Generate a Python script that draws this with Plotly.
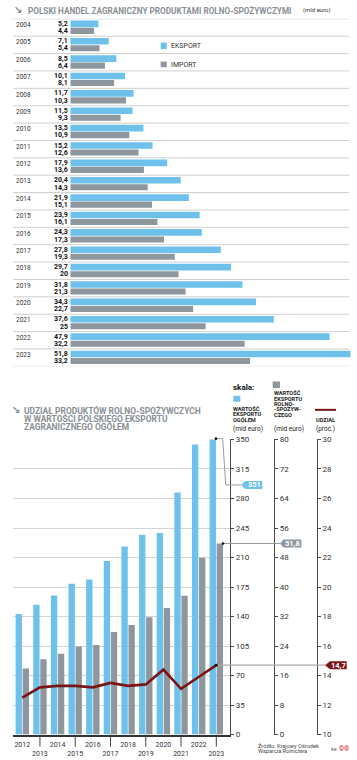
import plotly.graph_objects as go

W, H = 357, 760
FONT = "Roboto"

# ---------------- data ----------------
years_top = list(range(2004, 2024))
export_top = [5.2, 7.1, 8.5, 10.1, 11.7, 11.5, 13.5, 15.2, 17.9, 20.4,
              21.9, 23.9, 24.3, 27.8, 29.7, 31.8, 34.3, 37.6, 47.9, 51.8]
import_top = [4.4, 5.4, 6.4, 8.1, 10.3, 9.3, 10.9, 12.6, 13.6, 14.3,
              15.1, 16.1, 17.3, 19.3, 20, 21.3, 22.7, 25, 32.2, 33.2]

years_b = list(range(2012, 2024))
export_total = [143, 154, 165, 179, 184, 206, 223, 237, 239, 287, 344, 351]
export_agri = [17.9, 20.4, 21.9, 23.9, 24.3, 27.8, 29.7, 31.8, 34.3, 37.6, 47.9, 51.8]
share = [12.5, 13.2, 13.3, 13.3, 13.2, 13.5, 13.3, 13.4, 14.4, 13.1, 13.9, 14.7]

ticks_total = list(range(0, 351, 35))
ticks_agri = list(range(0, 81, 8))
ticks_share = list(range(10, 31, 2))

BLUE = "#6ec1ea"
GRAY = "#8e979e"
RED = "#7b1416"
TITLE_GRAY = "#8a8f94"
TXT = "#333333"


def fmt(v):
    return f"{v:g}".replace(".", ",")


def px(x):
    return x / W


def py(y):
    return 1 - y / H


# ---------------- geometry ----------------
TOP_X = (70.3, 350.7)
TOP_Y = (15.0, 366.7)
TOP_RANGE = [0, 51.8]

B_X = (13.0, 230.0)
B_Y = (440.7, 739.3)
step = (216.3 - 22.3) / 11
XR = [2012 - (22.3 - B_X[0]) / step, 2023 + (B_X[1] - 216.3) / step]
R_TOT = [0, 350]
R_AGRI = [0, 80]
R_SHARE = [10, 30]
AX2_X = 274.0
AX3_X = 316.7


def bx_px(v):
    return B_X[0] + (v - XR[0]) / (XR[1] - XR[0]) * (B_X[1] - B_X[0])


def by_px(v, rng):
    return B_Y[1] - (v - rng[0]) / (rng[1] - rng[0]) * (B_Y[1] - B_Y[0])


fig = go.Figure()

# ---------------- top chart ----------------
fig.add_trace(go.Bar(y=years_top, x=export_top, orientation="h", marker_color=BLUE,
                     marker_line_width=0, width=0.38, offset=-0.40,
                     xaxis="x", yaxis="y", showlegend=False, hoverinfo="skip"))
fig.add_trace(go.Bar(y=years_top, x=import_top, orientation="h", marker_color=GRAY,
                     marker_line_width=0, width=0.35, offset=0.02,
                     xaxis="x", yaxis="y", showlegend=False, hoverinfo="skip"))

# ---------------- bottom chart ----------------
fig.add_trace(go.Bar(x=years_b, y=export_total, marker_color=BLUE, marker_line_width=0,
                     width=0.36, offset=-0.38, xaxis="x2", yaxis="y2",
                     showlegend=False, hoverinfo="skip"))
fig.add_trace(go.Bar(x=years_b, y=export_agri, marker_color=GRAY, marker_line_width=0,
                     width=0.36, offset=0.02, xaxis="x2", yaxis="y3",
                     showlegend=False, hoverinfo="skip"))
fig.add_trace(go.Scatter(x=years_b, y=share, mode="lines", line=dict(color=RED, width=2.6),
                         xaxis="x2", yaxis="y4", showlegend=False, hoverinfo="skip"))

annotations = []
shapes = []


def txt(x, y, text, size, color=TXT, bold=False, anchor="left", family=FONT, **kw):
    t = f"<b>{text}</b>" if bold else text
    annotations.append(dict(x=px(x), y=py(y), xref="paper", yref="paper", text=t,
                            showarrow=False, xanchor=anchor, yanchor="middle",
                            font=dict(size=size, color=color, family=family),
                            borderpad=0, **kw))


# separators top chart
for b in [years_top[0] - 0.5] + [yv + 0.5 for yv in years_top]:
    shapes.append(dict(type="line", xref="paper", yref="y", x0=px(13), x1=px(349),
                       y0=b, y1=b, line=dict(color="#cfcfcf", width=1), layer="below"))

for yv, e, i in zip(years_top, export_top, import_top):
    annotations.append(dict(x=px(14), y=yv, xref="paper", yref="y", text=str(yv),
                            showarrow=False, xanchor="left", yanchor="middle", yshift=2.5,
                            font=dict(size=6.5, color=TXT, family=FONT)))
    annotations.append(dict(x=0, y=yv, xref="x", yref="y", text=f"<b>{fmt(e)}</b>",
                            showarrow=False, xanchor="right", yanchor="middle",
                            xshift=-1.5, yshift=3.6, borderpad=0,
                            font=dict(size=7, color="#111", family=FONT)))
    annotations.append(dict(x=0, y=yv, xref="x", yref="y", text=f"<b>{fmt(i)}</b>",
                            showarrow=False, xanchor="right", yanchor="middle",
                            xshift=-1.5, yshift=-3.6, borderpad=0,
                            font=dict(size=7, color="#111", family=FONT)))

# top title
txt(13, 6.0, "↘", 9.5, TITLE_GRAY, bold=True)
txt(26.7, 6.3, "POLSKI HANDEL ZAGRANICZNY PRODUKTAMI ROLNO-SPOŻYWCZYMI", 8.2, TITLE_GRAY, bold=True)
txt(301.5, 6.3, "(mld euro)", 6, TXT)

# top legend
shapes.append(dict(type="rect", xref="paper", yref="paper", x0=px(160.7), x1=px(166.7),
                   y0=py(45.7), y1=py(39), fillcolor=BLUE, line_width=0))
shapes.append(dict(type="rect", xref="paper", yref="paper", x0=px(160.7), x1=px(166.7),
                   y0=py(64), y1=py(58.3), fillcolor=GRAY, line_width=0))
txt(170, 42.5, "EKSPORT", 7, TXT)
txt(170, 61.3, "IMPORT", 7, TXT)

# bottom title
txt(11, 410.5, "↘", 9.5, TITLE_GRAY, bold=True)
txt(22.7, 411.0, "UDZIAŁ PRODUKTÓW ROLNO-SPOŻYWCZYCH", 8.45, TITLE_GRAY, bold=True)
txt(22.7, 419.5, "W WARTOŚCI POLSKIEGO EKSPORTU", 8.45, TITLE_GRAY, bold=True)
txt(22.7, 428.0, "ZAGRANICZNEGO OGÓŁEM", 8.45, TITLE_GRAY, bold=True)

# scale header
txt(232.3, 388.3, "skala:", 8, "#111", bold=True)
shapes.append(dict(type="rect", xref="paper", yref="paper", x0=px(233.3), x1=px(240.3),
                   y0=py(402.5), y1=py(396.5), fillcolor=BLUE, line_width=0))
for yy, t in zip([409.7, 415.3, 421.1], ["WARTOŚĆ", "EKSPORTU", "OGÓŁEM"]):
    txt(232.3, yy, t, 5.6, "#222", bold=True)
txt(232.3, 430.3, "(mld euro)", 6.5, "#222")

shapes.append(dict(type="rect", xref="paper", yref="paper", x0=px(272.7), x1=px(280),
                   y0=py(388.7), y1=py(382), fillcolor=GRAY, line_width=0))
for yy, t in zip([394, 399.4, 404.8, 410.2, 415.6],
                 ["WARTOŚĆ", "EKSPORTU", "ROLNO-", "-SPOŻYW-", "CZEGO"]):
    txt(272.7, yy, t, 5.6, "#222", bold=True)
txt(272.7, 430.3, "(mld euro)", 6.5, "#222")

shapes.append(dict(type="line", xref="paper", yref="paper", x0=px(315), x1=px(336),
                   y0=py(410.7), y1=py(410.7), line=dict(color=RED, width=2)))
txt(315, 421.2, "UDZIAŁ", 5.6, "#222", bold=True)
txt(315, 430.3, "(proc.)", 6.5, "#222")

# odd-year tick connectors
for yv in years_b:
    if yv % 2 == 1:
        shapes.append(dict(type="line", xref="x2", yref="paper", x0=yv, x1=yv,
                           y0=py(B_Y[1]), y1=py(751.5), line=dict(color="#444", width=1)))

# ---- callouts ----
last_x = years_b[-1]
xb = bx_px(last_x - 0.02)
yb = by_px(export_total[-1], R_TOT)
TAG1_Y = 486.7
shapes.append(dict(type="path", xref="paper", yref="paper",
                   path=f"M {px(xb)},{py(yb)} L {px(222.7)},{py(yb)} L {px(225.7)},{py(TAG1_Y)} L {px(241)},{py(TAG1_Y)}",
                   line=dict(color="#9a9a9a", width=1)))
shapes.append(dict(type="circle", xref="paper", yref="paper", x0=px(xb - 1.3), x1=px(xb + 1.3),
                   y0=py(yb + 1.3), y1=py(yb - 1.3), fillcolor="#111", line_width=0))
shapes.append(dict(type="path", xref="paper", yref="paper",
                   path=f"M {px(241)},{py(TAG1_Y)} L {px(245.3)},{py(TAG1_Y - 4)} L {px(262.3)},{py(TAG1_Y - 4)} "
                        f"L {px(262.3)},{py(TAG1_Y + 4)} L {px(245.3)},{py(TAG1_Y + 4)} Z",
                   fillcolor=BLUE, line_width=0))
txt(254, TAG1_Y, fmt(export_total[-1]), 7.5, "white", bold=True, anchor="center")

xg = bx_px(last_x + 0.38)
yg = by_px(export_agri[-1], R_AGRI)
shapes.append(dict(type="line", xref="paper", yref="paper", x0=px(xg), x1=px(280),
                   y0=py(yg), y1=py(yg), line=dict(color="#9a9a9a", width=1)))
shapes.append(dict(type="circle", xref="paper", yref="paper", x0=px(xg - 1.3), x1=px(xg + 1.3),
                   y0=py(yg + 1.3), y1=py(yg - 1.3), fillcolor="#111", line_width=0))
shapes.append(dict(type="path", xref="paper", yref="paper",
                   path=f"M {px(280)},{py(yg)} L {px(283.5)},{py(yg - 4)} L {px(301.3)},{py(yg - 4)} "
                        f"L {px(301.3)},{py(yg + 4)} L {px(283.5)},{py(yg + 4)} Z",
                   fillcolor=GRAY, line_width=0))
txt(292.5, yg, fmt(export_agri[-1]), 7.5, "white", bold=True, anchor="center")

xs = bx_px(last_x)
ys = by_px(share[-1], R_SHARE)
shapes.append(dict(type="line", xref="paper", yref="paper", x0=px(xs), x1=px(325),
                   y0=py(ys), y1=py(ys), line=dict(color="#a8a8a8", width=1.2)))
shapes.append(dict(type="circle", xref="paper", yref="paper", x0=px(xs - 1.4), x1=px(xs + 1.4),
                   y0=py(ys + 1.4), y1=py(ys - 1.4), fillcolor="#111", line_width=0))
shapes.append(dict(type="path", xref="paper", yref="paper",
                   path=f"M {px(325)},{py(ys)} L {px(330)},{py(ys - 4)} L {px(346.7)},{py(ys - 4)} "
                        f"L {px(346.7)},{py(ys + 4)} L {px(330)},{py(ys + 4)} Z",
                   fillcolor=RED, line_width=0))
txt(338.3, ys, fmt(share[-1]), 7.5, "white", bold=True, anchor="center")

txt(256.7, 750.3, "Źródło: Krajowy Ośrodek", 5.6, "#444")
txt(256.7, 755.8, "Wsparcia Rolnictwa", 5.6, "#444")
txt(330, 754.5, "kw", 4.5, "#555")
txt(337.5, 754.3, "©®", 6.5, "#d8262e", bold=True)

tickfont = dict(size=8, color=TXT, family=FONT)
common_y = dict(domain=[py(B_Y[1]), py(B_Y[0])], showline=True, linecolor="#4a4a4a",
                linewidth=1.3, ticks="outside", ticklen=3, tickwidth=1, tickcolor="#4a4a4a",
                tickfont=tickfont, zeroline=False, side="right", fixedrange=True)

fig.update_layout(
    width=W, height=H,
    margin=dict(l=0, r=0, t=0, b=0),
    paper_bgcolor="white", plot_bgcolor="rgba(0,0,0,0)",
    barmode="overlay",
    xaxis=dict(domain=[px(TOP_X[0]), px(TOP_X[1])], range=TOP_RANGE, visible=False,
               anchor="y", fixedrange=True),
    yaxis=dict(domain=[py(TOP_Y[1]), py(TOP_Y[0])],
               range=[years_top[-1] + 0.5, years_top[0] - 0.5], visible=False,
               anchor="x", fixedrange=True),
    xaxis2=dict(domain=[px(B_X[0]), px(B_X[1])], range=XR, anchor="y2",
                tickvals=years_b,
                ticktext=[str(v) if v % 2 == 0 else "<br>" + str(v) for v in years_b],
                tickfont=dict(size=7, color=TXT, family=FONT), ticks="", tickangle=0,
                ticklabelstandoff=2,
                showline=True, linecolor="#333", linewidth=1.5, showgrid=False,
                zeroline=False, fixedrange=True),
    yaxis2=dict(range=R_TOT, tickvals=ticks_total, anchor="x2", showgrid=True,
                gridcolor="#d4d4d4", gridwidth=1, **common_y),
    yaxis3=dict(range=R_AGRI, tickvals=ticks_agri, overlaying="y2", anchor="free",
                position=px(AX2_X), showgrid=False, **common_y),
    yaxis4=dict(range=R_SHARE, tickvals=ticks_share, overlaying="y2", anchor="free",
                position=px(AX3_X), showgrid=False, **common_y),
    annotations=annotations,
    shapes=shapes,
)

fig.write_html("out.html", config={"displayModeBar": False},
               post_script="document.body.style.margin='0';document.body.style.padding='0';")
